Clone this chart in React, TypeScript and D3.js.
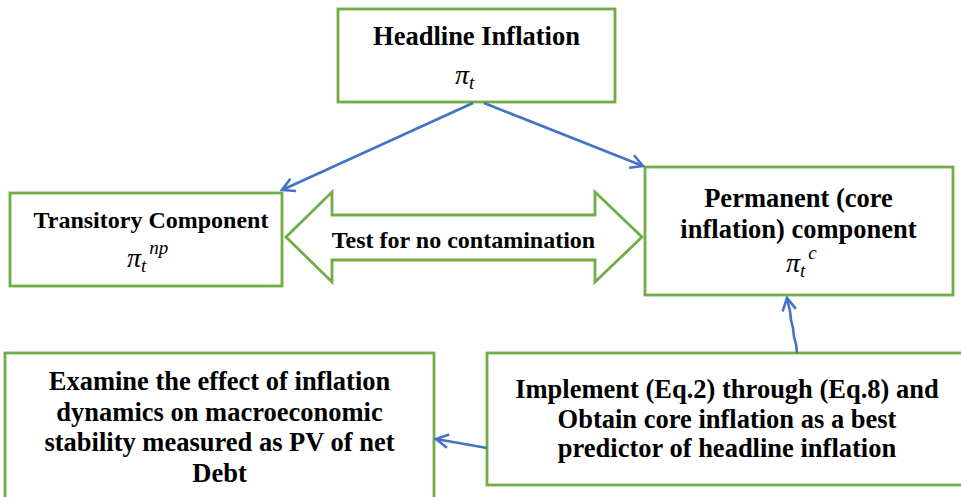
import React from "react";
import * as d3 from "d3";

// ---- content ----
const boxIds = ["headline", "transitory", "permanent", "implement", "examine"];
const boxTitles = [
  ["Headline Inflation"],
  ["Transitory Component"],
  ["Permanent (core", "inflation) component"],
  ["Implement (Eq.2) through (Eq.8) and", "Obtain core inflation as a best", "predictor of headline inflation"],
  ["Examine the effect of inflation", "dynamics on macroeconomic", "stability measured as PV of net", "Debt"],
];
const boxSuperscripts = [null, "np", "c", null, null];
const boxHasMath = [true, true, true, false, false];
const doubleArrowLabel = "Test for no contamination";
const edgeFrom = ["headline", "headline", "implement", "implement"];
const edgeTo = ["transitory", "permanent", "permanent", "examine"];

// ---- layout (pixel geometry) ----
const W = 961, H = 497;
const rects: Record<string, { x0: number; y0: number; x1: number; y1: number; cx: number; fs: number; lines: number[]; mathX: number; mathY: number }> = {
  headline: { x0: 338, y0: 9, x1: 615, y1: 102, cx: 476.5, fs: 26.5, lines: [45], mathX: 455, mathY: 84 },
  transitory: { x0: 10, y0: 193, x1: 282, y1: 286, cx: 151, fs: 24, lines: [228], mathX: 127, mathY: 267 },
  permanent: { x0: 645, y0: 167, x1: 953, y1: 295, cx: 798.5, fs: 26.5, lines: [207, 238], mathX: 786, mathY: 272 },
  implement: { x0: 487, y0: 353, x1: 975, y1: 485, cx: 727, fs: 26.5, lines: [398, 428, 457], mathX: 0, mathY: 0 },
  examine: { x0: 5, y0: 353, x1: 434, y1: 510, cx: 219.5, fs: 26.5, lines: [390, 421, 451, 482], mathX: 0, mathY: 0 },
};
const edgePaths: [number, number][][] = [
  [[473, 103], [282, 190]],
  [[484, 103], [643, 166]],
  [[797, 353], [796, 344], [794, 337], [793, 328], [791, 320], [790, 311], [788, 303], [787, 298]],
  [[487, 448], [436, 439]],
];
const dbl = { tipL: 286, baseL: 332, baseR: 595, tipR: 642, cy: 237, headTop: 192, headBot: 282, shaftTop: 215, shaftBot: 260, labelX: 463.5, labelY: 248 };

const GREEN = "#70AD47";
const BLUE = "#4472C4";
const FONT = '"Liberation Serif", serif';

function arrowHead(p: [number, number][], len = 14, ang = 0.5) {
  const [x1, y1] = p[0];
  const [x2, y2] = p[p.length - 1];
  const a = Math.atan2(y2 - y1, x2 - x1);
  const l: [number, number] = [x2 - len * Math.cos(a - ang), y2 - len * Math.sin(a - ang)];
  const r: [number, number] = [x2 - len * Math.cos(a + ang), y2 - len * Math.sin(a + ang)];
  return [l, [x2, y2] as [number, number], r];
}

export default function App() {
  const line = d3.line<[number, number]>().x((d) => d[0]).y((d) => d[1]);
  const dblPts: [number, number][] = [
    [dbl.tipL, dbl.cy], [dbl.baseL, dbl.headTop], [dbl.baseL, dbl.shaftTop], [dbl.baseR, dbl.shaftTop],
    [dbl.baseR, dbl.headTop], [dbl.tipR, dbl.cy], [dbl.baseR, dbl.headBot], [dbl.baseR, dbl.shaftBot],
    [dbl.baseL, dbl.shaftBot], [dbl.baseL, dbl.headBot],
  ];
  const boldStyle = { fontFamily: FONT, fontWeight: 700 } as React.CSSProperties;
  const italStyle = { fontFamily: FONT, fontStyle: "italic" } as React.CSSProperties;
  return (
    <svg width={W} height={H} style={{ position: "absolute", left: 0, top: 0, background: "#fff" }}>
      <rect width={W} height={H} fill="#fff" />
      {/* double arrow */}
      <path d={line(dblPts) + "Z"} fill="#fff" stroke={GREEN} strokeWidth={2.8} strokeLinejoin="miter" />
      <text x={dbl.labelX} y={dbl.labelY} textAnchor="middle" style={{ ...boldStyle, fontSize: 24 }}>
        {doubleArrowLabel}
      </text>
      {/* boxes */}
      {boxIds.map((id, i) => {
        const r = rects[id];
        return (
          <g key={id}>
            <rect x={r.x0} y={r.y0} width={r.x1 - r.x0} height={r.y1 - r.y0} fill="#fff" stroke={GREEN} strokeWidth={2.8} />
            {boxTitles[i].map((t, j) => (
              <text key={j} x={r.cx} y={r.lines[j]} textAnchor="middle" style={{ ...boldStyle, fontSize: r.fs }}>
                {t}
              </text>
            ))}
            {boxHasMath[i] && (
              <text x={r.mathX} y={r.mathY} style={{ ...italStyle, fontSize: 28 }}>
                <tspan>π</tspan>
                <tspan style={{ fontSize: 19 }} dy={5}>t</tspan>
                {boxSuperscripts[i] && (
                  <tspan style={{ fontSize: 19 }} dy={-18} dx={3}>{boxSuperscripts[i]}</tspan>
                )}
              </text>
            )}
          </g>
        );
      })}
      {/* edges */}
      {edgePaths.map((p, i) => (
        <g key={edgeFrom[i] + edgeTo[i]}>
          <path d={line(p) || ""} fill="none" stroke={BLUE} strokeWidth={2.6} strokeLinejoin="round" />
          <path d={line(arrowHead(p) as [number, number][]) || ""} fill="none" stroke={BLUE} strokeWidth={2.6} />
        </g>
      ))}
    </svg>
  );
}
